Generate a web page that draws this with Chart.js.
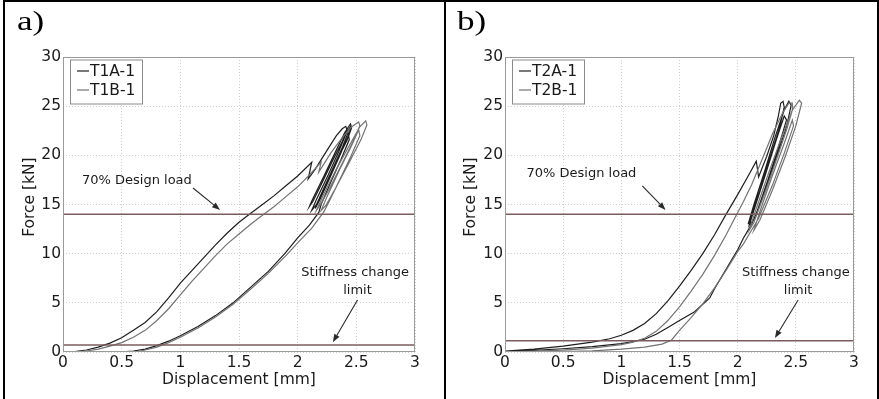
<!DOCTYPE html>
<html><head><meta charset="utf-8">
<script src="https://cdn.jsdelivr.net/npm/chart.js@4.4.1/dist/chart.umd.min.js"></script>
<style>
html,body{margin:0;padding:0;background:#fff;}
#wrap{position:relative;width:879px;height:399px;overflow:hidden;background:#fff;}
canvas{position:absolute;top:0;}
.frame{position:absolute;background:#000;}
.plab{position:absolute;font-family:"Liberation Serif","Times New Roman",serif;font-size:27px;line-height:27px;color:#000;transform:scaleX(1.3);transform-origin:0 0;white-space:nowrap;}
</style></head><body>
<div id="wrap">
<canvas id="ca" width="440" height="399" style="left:0"></canvas>
<canvas id="cb" width="431" height="399" style="left:446px"></canvas>
<div class="frame" style="left:3px;top:0;width:876px;height:2px"></div>
<div class="frame" style="left:3px;top:0;width:2px;height:399px"></div>
<div class="frame" style="left:444px;top:0;width:2px;height:399px"></div>
<div class="frame" style="left:877px;top:0;width:2px;height:399px"></div>
<div class="plab" style="left:17px;top:8px">a)</div>
<div class="plab" style="left:457px;top:8px">b)</div>
</div>
<script>
// ---- axis ticks ----
const xTickValues = [0, 0.5, 1, 1.5, 2, 2.5, 3];
const xTickLabels = ['0', '0.5', '1', '1.5', '2', '2.5', '3'];
const yTickValues = [0, 5, 10, 15, 20, 25, 30];
const yTickLabels = ['0', '5', '10', '15', '20', '25', '30'];

// ---- reference lines [kN] ----
const designLoad70 = 14;
const stiffLimitA = 0.7;
const stiffLimitB = 1.15;

// ---- series a) [displacement mm, force kN] ----
const T1A_1 = [
 [0,0],[0.1,0.05],[0.2,0.2],[0.3,0.5],[0.4,0.9],[0.5,1.45],[0.6,2.2],[0.7,3.0],[0.8,4.1],[0.9,5.5],
 [1.0,7.0],[1.1,8.3],[1.2,9.6],[1.3,10.9],[1.4,12.1],[1.5,13.2],[1.6,14.1],[1.7,15.0],[1.8,15.9],
 [1.9,16.9],[2.0,17.9],[2.12,19.3],[2.09,17.6],
 [2.15,18.6],[2.25,20.5],[2.33,22.0],[2.38,22.7],[2.41,22.95],[2.42,22.6],[2.38,21.4],[2.3,19.5],
 [2.2,17.0],[2.13,15.3],[2.1,14.8],
 [2.13,15.6],[2.22,17.8],[2.32,20.3],[2.4,22.3],[2.45,23.2],[2.46,22.8],[2.42,21.5],[2.34,19.6],
 [2.25,17.3],[2.16,15.0],[2.12,14.4],
 [2.16,15.5],[2.26,18.0],[2.35,20.4],[2.42,22.4],[2.45,22.9],[2.44,22.2],[2.36,20.0],[2.27,17.6],
 [2.19,15.5],[2.15,14.6],
 [2.19,15.8],[2.29,18.4],[2.38,20.8],[2.43,22.3],[2.44,21.6],[2.37,19.6],[2.28,17.2],[2.2,15.0],[2.18,14.2],
 [2.1,12.9],[2.0,11.6],[1.89,10.0],[1.75,8.2],[1.6,6.6],[1.45,5.0],[1.3,3.7],[1.15,2.6],[1.0,1.65],
 [0.9,1.1],[0.8,0.65],[0.7,0.3],[0.6,0.1],[0.47,0]
];
const T1B_1 = [
 [0,0],[0.1,0.02],[0.2,0.1],[0.3,0.3],[0.4,0.6],[0.5,0.95],[0.6,1.5],[0.7,2.2],[0.8,3.2],[0.9,4.4],
 [1.0,5.8],[1.1,7.2],[1.2,8.5],[1.3,9.8],[1.4,11.0],[1.5,12.0],[1.6,13.0],[1.7,13.9],[1.8,14.8],
 [1.9,15.8],[2.0,16.8],[2.1,18.0],[2.2,19.3],[2.18,18.3],
 [2.28,20.2],[2.38,21.8],[2.46,22.9],[2.52,23.4],[2.53,23.0],[2.48,21.6],[2.38,19.2],[2.27,16.6],
 [2.19,14.9],[2.16,14.4],
 [2.22,16.0],[2.33,18.6],[2.44,21.0],[2.53,22.9],[2.58,23.5],[2.59,23.1],[2.54,21.6],[2.44,19.3],
 [2.33,16.8],[2.24,14.9],[2.2,14.4],
 [2.25,15.8],[2.36,18.6],[2.46,21.0],[2.52,22.6],[2.53,22.0],[2.45,19.8],[2.35,17.3],[2.26,15.1],[2.22,14.2],
 [2.12,12.6],[2.0,11.1],[1.9,9.8],[1.75,8.0],[1.6,6.4],[1.45,4.85],[1.3,3.55],[1.15,2.45],[1.0,1.5],
 [0.9,0.95],[0.8,0.5],[0.7,0.2],[0.62,0]
];

// ---- series b) ----
const T2A_1 = [
 [0,0.1],[0.25,0.3],[0.5,0.6],[0.75,1.0],[0.9,1.35],[1.0,1.7],[1.1,2.2],[1.2,2.9],[1.3,3.9],[1.4,5.2],
 [1.5,6.7],[1.6,8.3],[1.7,10.0],[1.8,11.9],[1.9,14.0],[2.0,16.0],[2.1,18.1],[2.16,19.4],[2.18,17.8],
 [2.25,19.9],[2.31,22.0],[2.35,24.0],[2.37,25.3],[2.39,25.5],[2.4,24.9],[2.36,22.8],[2.28,19.8],
 [2.19,16.4],[2.11,13.6],[2.09,13.0],
 [2.14,15.0],[2.23,18.3],[2.32,21.8],[2.4,24.6],[2.44,25.5],[2.46,25.1],[2.42,22.9],[2.33,19.7],
 [2.23,16.2],[2.14,13.5],[2.1,12.9],
 [2.15,14.8],[2.24,18.1],[2.33,21.5],[2.4,24.0],[2.42,23.6],[2.35,20.8],[2.26,17.5],[2.17,14.4],[2.12,13.0],
 [2.05,11.6],[2.0,10.4],[1.9,8.4],[1.8,6.4],[1.76,5.5],[1.63,4.1],[1.5,3.2],[1.4,2.5],[1.3,1.8],
 [1.2,1.3],[1.1,1.05],[1.0,0.85],[0.75,0.55],[0.5,0.33],[0.25,0.16],[0,0.05]
];
const T2B_1 = [
 [0,0],[0.25,0.08],[0.5,0.2],[0.75,0.4],[1.0,0.75],[1.1,1.0],[1.2,1.4],[1.3,2.1],[1.4,3.2],[1.5,4.6],
 [1.6,6.2],[1.7,7.9],[1.8,9.8],[1.9,11.9],[1.97,13.5],[2.05,15.3],[2.12,17.0],
 [2.2,19.3],[2.3,22.2],[2.39,24.4],[2.44,25.3],[2.47,25.3],[2.47,24.6],[2.42,22.6],[2.34,19.8],
 [2.24,16.4],[2.14,13.2],[2.1,12.4],
 [2.16,14.6],[2.26,18.0],[2.37,21.6],[2.47,24.6],[2.53,25.6],[2.55,25.3],[2.5,23.0],[2.41,19.9],
 [2.3,16.5],[2.19,13.4],[2.14,12.4],
 [2.2,14.6],[2.3,18.0],[2.4,21.2],[2.47,23.6],[2.48,23.0],[2.4,20.2],[2.3,17.0],[2.18,13.6],[2.1,12.0],[2.05,11.0],
 [2.0,10.2],[1.9,8.3],[1.8,6.5],[1.7,4.9],[1.6,3.5],[1.5,2.2],[1.43,1.2],[1.35,0.8],[1.2,0.5],
 [1.0,0.3],[0.75,0.12],[0.5,0.04],[0.25,0.01],[0,0]
];

// ---- styles ----
const BLACK = '#1e1e1e';
const GREY = '#737373';
const LIMIT = '#7a5c5e';
const GRIDC = '#cfcfcf';
const BOXC = '#9a9a9a';
const TXT = '#1a1a1a';
const FONT = "'DejaVu Sans', 'Liberation Sans', Arial, sans-serif";

function overlay(cfg) {
  return {
    id: 'overlay',
    afterDatasetsDraw(chart) {
      const {ctx, chartArea: a, scales: {x, y}} = chart;
      ctx.save();
      // plot box
      ctx.strokeStyle = BOXC; ctx.lineWidth = 1;
      ctx.strokeRect(a.left + 0.5, a.top + 0.5, a.right - a.left - 1, a.bottom - a.top - 1);
      // legend box
      const lx = a.left + 7, ly = a.top + 2.5, lw = 72, lh = 44;
      ctx.fillStyle = '#fff'; ctx.fillRect(lx, ly, lw, lh);
      ctx.strokeStyle = '#8a8a8a'; ctx.strokeRect(lx + 0.5, ly + 0.5, lw, lh);
      ctx.font = '15.5px ' + FONT; ctx.textBaseline = 'middle'; ctx.textAlign = 'left';
      [[cfg.nameA, BLACK, 11.5], [cfg.nameB, GREY, 30.5]].forEach(([t, c, dy]) => {
        ctx.strokeStyle = c; ctx.lineWidth = 1.2;
        ctx.beginPath(); ctx.moveTo(lx + 7, ly + dy); ctx.lineTo(lx + 19, ly + dy); ctx.stroke();
        ctx.fillStyle = TXT; ctx.fillText(t, lx + 20, ly + dy + 0.5);
      });
      // annotations
      ctx.font = '13px ' + FONT; ctx.textAlign = 'center'; ctx.fillStyle = TXT;
      cfg.texts.forEach(([t, vx, vy]) => ctx.fillText(t, x.getPixelForValue(vx), y.getPixelForValue(vy)));
      ctx.strokeStyle = '#2a2a2a'; ctx.fillStyle = '#2a2a2a'; ctx.lineWidth = 1.1;
      cfg.arrows.forEach(([x1, y1, x2, y2]) => {
        const px1 = x.getPixelForValue(x1), py1 = y.getPixelForValue(y1);
        const px2 = x.getPixelForValue(x2), py2 = y.getPixelForValue(y2);
        const ang = Math.atan2(py2 - py1, px2 - px1);
        const L = 8, W = 3;
        const bx = px2 - L * Math.cos(ang), by = py2 - L * Math.sin(ang);
        ctx.beginPath(); ctx.moveTo(px1, py1); ctx.lineTo(bx, by); ctx.stroke();
        ctx.beginPath(); ctx.moveTo(px2, py2);
        ctx.lineTo(bx + W * Math.sin(ang), by - W * Math.cos(ang));
        ctx.lineTo(bx - W * Math.sin(ang), by + W * Math.cos(ang));
        ctx.closePath(); ctx.fill();
      });
      ctx.restore();
    }
  };
}

function buildChart(id, cfg) {
  const pts = arr => arr.map(p => ({x: p[0], y: p[1]}));
  const ds = (arr, color, w, label) => ({label, data: pts(arr), showLine: true, borderColor: color,
    borderWidth: w, pointRadius: 0, fill: false, tension: 0});
  const tickFont = {family: FONT, size: 15.5};
  const titleFont = {family: FONT, size: 15.5};
  return new Chart(document.getElementById(id), {
    type: 'scatter',
    data: {datasets: [
      ds([[0, designLoad70], [3, designLoad70]], LIMIT, 1.5, '70% Design load'),
      ds([[0, cfg.stiff], [3, cfg.stiff]], LIMIT, 1.5, 'Stiffness change limit'),
      ds(cfg.seriesB, GREY, 1.2, cfg.nameB),
      ds(cfg.seriesA, BLACK, 1.2, cfg.nameA)
    ]},
    options: {
      responsive: false, animation: false, devicePixelRatio: 1,
      layout: {padding: {left: 0, right: cfg.padRight, top: 57, bottom: 0}},
      plugins: {legend: {display: false}, tooltip: {enabled: false}},
      scales: {
        x: {
          type: 'linear', min: 0, max: 3,
          afterBuildTicks: s => { s.ticks = xTickValues.map(v => ({value: v})); },
          afterFit: s => { s.height = 47; },
          ticks: {callback: v => xTickLabels[xTickValues.indexOf(v)], font: tickFont, color: TXT,
            padding: 2, maxRotation: 0, autoSkip: false},
          grid: {color: GRIDC, drawTicks: false, lineWidth: 1},
          border: {display: false, dash: [1, 2]},
          title: {display: true, text: 'Displacement [mm]', font: titleFont, color: TXT,
            padding: {top: 0, bottom: 10}}
        },
        y: {
          type: 'linear', min: 0, max: 30,
          afterBuildTicks: s => { s.ticks = yTickValues.map(v => ({value: v})); },
          afterFit: s => { s.width = cfg.yWidth; },
          ticks: {callback: v => yTickLabels[yTickValues.indexOf(v)], font: tickFont, color: TXT,
            padding: 2, autoSkip: false},
          grid: {color: GRIDC, drawTicks: false, lineWidth: 1},
          border: {display: false, dash: [1, 2]},
          title: {display: true, text: '   Force [kN]', font: titleFont, color: TXT,
            padding: {top: cfg.yTitlePad, bottom: 0}}
        }
      }
    },
    plugins: [overlay(cfg)]
  });
}

buildChart('ca', {
  seriesA: T1A_1, seriesB: T1B_1, nameA: 'T1A-1', nameB: 'T1B-1', stiff: stiffLimitA,
  yWidth: 63, padRight: 25, yTitlePad: 21,
  texts: [['70% Design load', 0.63, 17.4], ['Stiffness change', 2.49, 8.03], ['limit', 2.51, 6.2]],
  arrows: [[1.108, 16.68, 1.338, 14.44], [2.51, 5.29, 2.30, 1.0]]
});
buildChart('cb', {
  seriesA: T2A_1, seriesB: T2B_1, nameA: 'T2A-1', nameB: 'T2B-1', stiff: stiffLimitB,
  yWidth: 59, padRight: 23, yTitlePad: 15.5,
  texts: [['70% Design load', 0.657, 18.1], ['Stiffness change', 2.50, 8.08], ['limit', 2.52, 6.2]],
  arrows: [[1.18, 16.9, 1.38, 14.44], [2.52, 5.29, 2.32, 1.42]]
});
</script>
</body></html>
